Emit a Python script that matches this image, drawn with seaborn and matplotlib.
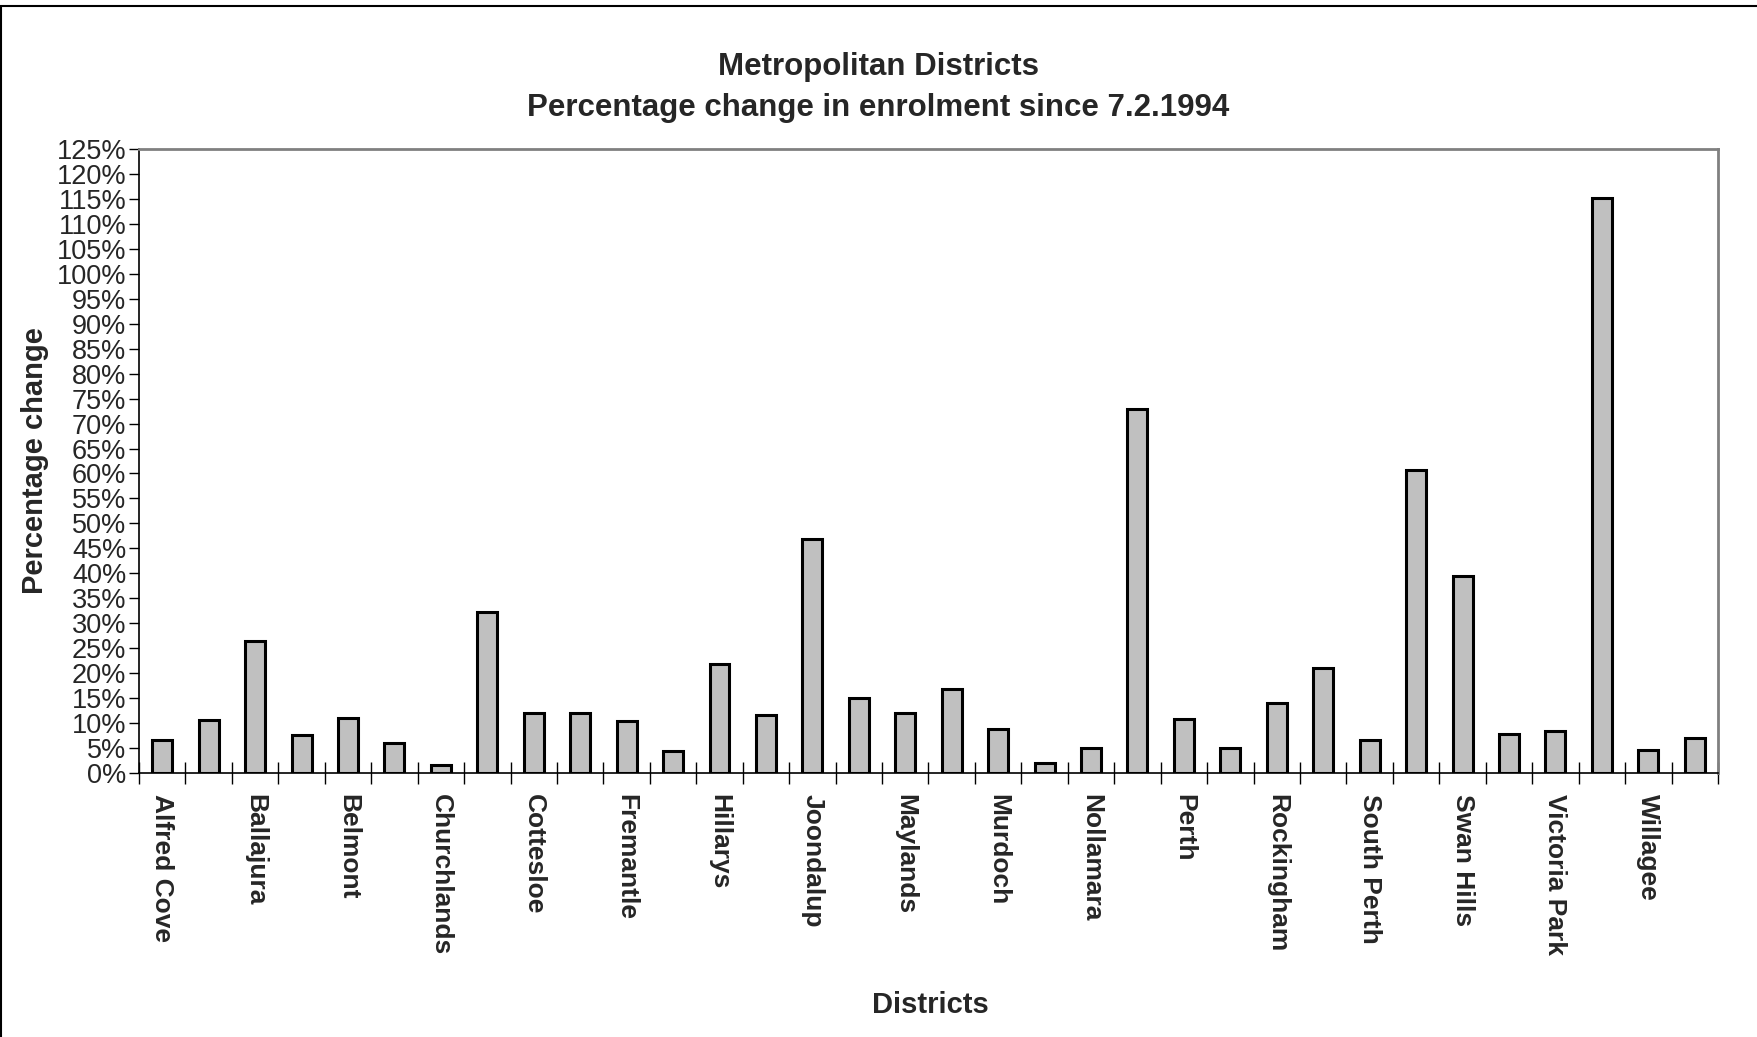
import matplotlib
matplotlib.use("Agg")
import matplotlib.pyplot as plt
import matplotlib.patches as mpatches
from matplotlib.ticker import FuncFormatter, MultipleLocator
import numpy as np
import pandas as pd
import seaborn as sns

# districts, alphabetical; only every second name is printed on the chart
districts = ['Alfred Cove', 'Armadale', 'Ballajura', 'Bassendean', 'Belmont', 'Carine',
             'Churchlands', 'Cockburn', 'Cottesloe', 'Darling Range', 'Fremantle', 'Girrawheen',
             'Hillarys', 'Innaloo', 'Joondalup', 'Kalamunda', 'Maylands', 'Midland',
             'Murdoch', 'Nedlands', 'Nollamara', 'Peel', 'Perth', 'Riverton',
             'Rockingham', 'Roleystone', 'South Perth', 'Southern River', 'Swan Hills', 'Thornlie',
             'Victoria Park', 'Wanneroo', 'Willagee', 'Yokine']
pct_change = [6.6, 10.6, 26.5, 7.6, 11.0, 6.1,
              1.5, 32.3, 12.1, 12.0, 10.4, 4.5,
              21.8, 11.6, 46.8, 15.0, 12.1, 16.8,
              8.9, 2.0, 5.1, 72.9, 10.8, 5.0,
              14.0, 21.0, 6.6, 60.7, 39.5, 7.8,
              8.4, 115.1, 4.7, 7.0]

df = pd.DataFrame({'district': districts, 'pct': pct_change})

sns.set_style('white')
plt.rcParams['font.family'] = ['Liberation Sans', 'DejaVu Sans']

fig = plt.figure(figsize=(17.57, 10.37), dpi=100)
ax = fig.add_axes([0.0791, 0.2546, 0.8987, 0.6017])

sns.barplot(data=df, x='district', y='pct', color='#C0C0C0', saturation=1,
            edgecolor='black', linewidth=2.2, width=0.43, ax=ax)

ax.set_xlim(-0.5, len(districts) - 0.5)
ax.set_ylim(0, 125)
ax.yaxis.set_major_locator(MultipleLocator(5))
ax.yaxis.set_major_formatter(FuncFormatter(lambda v, p: f'{v:.0f}%'))
ax.tick_params(axis='y', direction='out', length=7, width=1, color='black',
               labelsize=19.5, pad=2, left=True)

# labels on every other bar, tick marks on the category boundaries
ax.set_xticks(range(0, len(districts), 2))
ax.set_xticklabels(districts[::2], rotation=-90, fontsize=19, fontweight='bold',
                   va='top', ha='center')
ax.tick_params(axis='x', which='major', length=0, pad=15)
ax.set_xticks(np.arange(-0.5, len(districts), 1), minor=True)
ax.tick_params(axis='x', which='minor', direction='inout', length=16, width=1,
               color='black', bottom=True)

for side in ['top', 'right']:
    ax.spines[side].set_color('#808080')
    ax.spines[side].set_linewidth(2)
for side in ['left', 'bottom']:
    ax.spines[side].set_color('black')
    ax.spines[side].set_linewidth(1.2)

ax.set_xlabel('Districts', fontsize=21, fontweight='bold')
ax.xaxis.set_label_coords(0.501, -0.35)
ax.set_ylabel('Percentage change', fontsize=21, fontweight='bold')
ax.yaxis.set_label_coords(-0.057, 0.5)

fig.text(0.5, 0.935, 'Metropolitan Districts', ha='center', va='center',
         fontsize=22.5, fontweight='bold')
fig.text(0.5, 0.896, 'Percentage change in enrolment since 7.2.1994', ha='center',
         va='center', fontsize=22.5, fontweight='bold')

# outer chart border
fig.patches.append(mpatches.Rectangle((0.0006, -0.01), 1.1, 1.004, transform=fig.transFigure,
                                      fill=False, edgecolor='black', linewidth=1.5))

fig.savefig('out.png', dpi=100)
